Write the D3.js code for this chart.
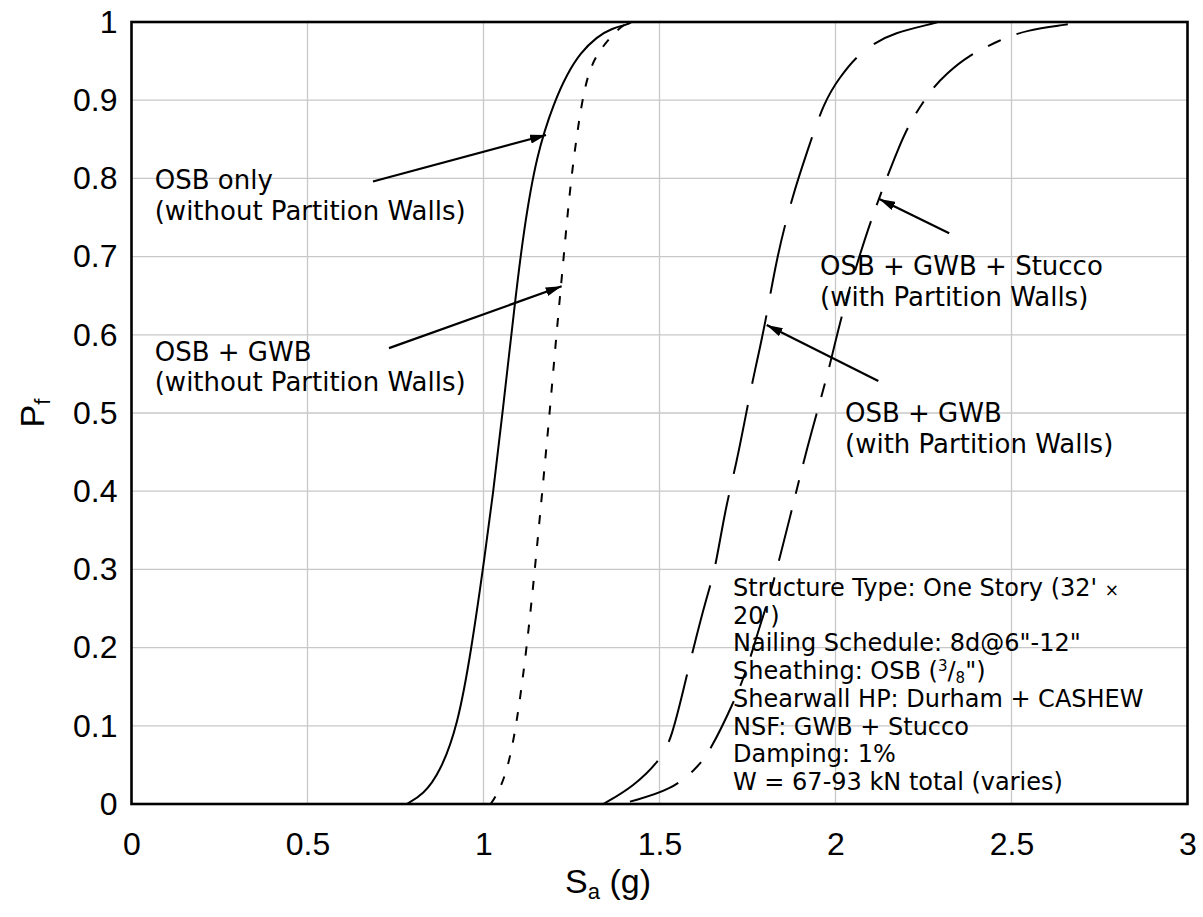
<!DOCTYPE html>
<html>
<head>
<meta charset="utf-8">
<script src="https://cdn.jsdelivr.net/npm/d3@7"></script>
<style>
  html, body { margin: 0; padding: 0; background: #fff; }
  svg { display: block; }
</style>
</head>
<body>
<svg id="chart" width="1203" height="917"></svg>
<script>
// ---------------- data ----------------
const xTicks = [0, 0.5, 1, 1.5, 2, 2.5, 3];
const xTickLabels = ["0", "0.5", "1", "1.5", "2", "2.5", "3"];
const yTicks = [0, 0.1, 0.2, 0.3, 0.4, 0.5, 0.6, 0.7, 0.8, 0.9, 1];
const yTickLabels = ["0", "0.1", "0.2", "0.3", "0.4", "0.5", "0.6", "0.7", "0.8", "0.9", "1"];

// OSB only (without Partition Walls) - solid
const osbOnlySa = [0.782, 0.829, 0.876, 0.927, 0.966, 0.998, 1.028, 1.054, 1.089, 1.113, 1.151, 1.203, 1.236, 1.274, 1.322, 1.365, 1.411, 1.42];
const osbOnlyPf = [0, 0.012, 0.04, 0.1, 0.199, 0.299, 0.399, 0.5, 0.64, 0.73, 0.832, 0.9, 0.932, 0.96, 0.981, 0.992, 0.997, 1.0];

// OSB + GWB (without Partition Walls) - short dashes
const osbGwbSa = [1.02, 1.035, 1.066, 1.094, 1.123, 1.146, 1.167, 1.188, 1.207, 1.228, 1.248, 1.279, 1.303, 1.336, 1.388, 1.416];
const osbGwbPf = [0, 0.009, 0.039, 0.1, 0.2, 0.3, 0.4, 0.5, 0.6, 0.7, 0.8, 0.9, 0.943, 0.968, 0.994, 1.0];

// OSB + GWB (with Partition Walls) - long dashes
const osbGwbPwSa = [1.34, 1.426, 1.506, 1.535, 1.568, 1.596, 1.634, 1.658, 1.686, 1.719, 1.748, 1.771, 1.800, 1.833, 1.880, 1.918, 1.967, 2.013, 2.06, 2.107, 2.164, 2.278, 2.29];
const osbGwbPwPf = [0.0, 0.022, 0.058, 0.086, 0.146, 0.199, 0.265, 0.299, 0.376, 0.436, 0.504, 0.555, 0.6125, 0.700, 0.781, 0.832, 0.898, 0.930, 0.956, 0.972, 0.986, 0.998, 1.0];

// OSB + GWB + Stucco (with Partition Walls) - dash / short dash
const stuccoSa = [1.416, 1.535, 1.606, 1.643, 1.710, 1.748, 1.781, 1.814, 1.842, 1.871, 1.899, 1.928, 1.984, 2.013, 2.070, 2.107, 2.183, 2.221, 2.278, 2.316, 2.373, 2.467, 2.543, 2.666, 2.69];
const stuccoPf = [0.003, 0.018, 0.046, 0.067, 0.129, 0.171, 0.2225, 0.267, 0.316, 0.367, 0.419, 0.470, 0.559, 0.619, 0.704, 0.755, 0.845, 0.879, 0.917, 0.934, 0.956, 0.977, 0.990, 0.997, 1.0];

// annotation labels (lines) and arrow start/tip in data units
const labelLines = [
  ["OSB only", "(without Partition Walls)"],
  ["OSB + GWB", "(without Partition Walls)"],
  ["OSB + GWB + Stucco", "(with Partition Walls)"],
  ["OSB + GWB", "(with Partition Walls)"]
];
const labelAnchorSa = [0.066, 0.066, 1.956, 2.027];
const labelAnchorPf = [0.786, 0.567, 0.676, 0.488];
const arrowFromSa = [0.686, 0.7315, 2.323, 2.1216];
const arrowFromPf = [0.796, 0.583, 0.730, 0.541];
const arrowToSa = [1.1776, 1.222, 2.1244, 1.8045];
const arrowToPf = [0.8555, 0.662, 0.7737, 0.6125];

const infoLines = [
  "Structure Type: One Story (32' ×",
  "20')",
  "Nailing Schedule: 8d@6\"-12\"",
  "Sheathing: OSB (3/8\")",
  "Shearwall HP: Durham + CASHEW",
  "NSF: GWB + Stucco",
  "Damping: 1%",
  "W = 67-93 kN total (varies)"
];

// ---------------- drawing ----------------
const svg = d3.select("#chart");
svg.append("rect").attr("width", 1203).attr("height", 917).attr("fill", "#fff");

const x = d3.scaleLinear().domain([0, 3]).range([131.5, 1187.5]);
const y = d3.scaleLinear().domain([0, 1]).range([804, 22]);

// gridlines
const grid = svg.append("g");
grid.selectAll("line.gx").data(xTicks.slice(1, -1)).join("line")
  .attr("x1", d => x(d)).attr("x2", d => x(d))
  .attr("y1", y(0)).attr("y2", y(1))
  .attr("stroke", "#c8c8c8").attr("stroke-width", 1.3);
grid.selectAll("line.gy").data(yTicks.slice(1, -1)).join("line")
  .attr("y1", d => y(d)).attr("y2", d => y(d))
  .attr("x1", x(0)).attr("x2", x(3))
  .attr("stroke", "#c8c8c8").attr("stroke-width", 1.3);

// series
const series = [
  { sa: osbOnlySa, pf: osbOnlyPf, dash: null },
  { sa: osbGwbSa, pf: osbGwbPf, dash: "9,13" },
  { sa: osbGwbPwSa, pf: osbGwbPwPf, dash: "70,22" },
  { sa: stuccoSa, pf: stuccoPf, dash: "52,17,14,17" }
];
const line = d3.line().x(d => x(d[0])).y(d => y(d[1])).curve(d3.curveBasis);
svg.append("g").selectAll("path").data(series).join("path")
  .attr("d", s => line(s.sa.map((v, i) => [v, s.pf[i]])))
  .attr("fill", "none").attr("stroke", "#000").attr("stroke-width", 2)
  .attr("stroke-dasharray", s => s.dash);

// plot border
svg.append("rect")
  .attr("x", x(0)).attr("y", y(1))
  .attr("width", x(3) - x(0)).attr("height", y(0) - y(1))
  .attr("fill", "none").attr("stroke", "#000").attr("stroke-width", 2.6);

// axes
const tickFont = "'Liberation Sans', Arial, sans-serif";
const xAxis = d3.axisBottom(x).tickValues(xTicks).tickSize(0).tickPadding(28)
  .tickFormat((d, i) => xTickLabels[i]);
const gx = svg.append("g").attr("transform", `translate(0,${y(0)})`).call(xAxis);
gx.select(".domain").remove();
gx.selectAll("text").attr("font-family", tickFont).attr("font-size", 32).attr("fill", "#000");

const yAxis = d3.axisLeft(y).tickValues(yTicks).tickSize(0).tickPadding(14)
  .tickFormat((d, i) => yTickLabels[i]);
const gy = svg.append("g").attr("transform", `translate(${x(0)},0)`).call(yAxis);
gy.select(".domain").remove();
gy.selectAll("text").attr("font-family", tickFont).attr("font-size", 32).attr("fill", "#000");

// axis titles
const xt = svg.append("text").attr("x", 608).attr("y", 893)
  .attr("text-anchor", "middle").attr("font-family", tickFont).attr("font-size", 34);
xt.append("tspan").text("S");
xt.append("tspan").attr("font-size", 22).attr("dy", 6).text("a");
xt.append("tspan").attr("dy", -6).text(" (g)");

const yt = svg.append("text")
  .attr("transform", `translate(44,${(y(0) + y(1)) / 2}) rotate(-90)`)
  .attr("text-anchor", "middle").attr("font-family", tickFont).attr("font-size", 34);
yt.append("tspan").text("P");
yt.append("tspan").attr("font-size", 22).attr("dy", 6).text("f");

// arrow marker
svg.append("defs").append("marker")
  .attr("id", "arrowhead").attr("viewBox", "0 0 16 9")
  .attr("refX", 16).attr("refY", 4.5)
  .attr("markerWidth", 16).attr("markerHeight", 9)
  .attr("markerUnits", "userSpaceOnUse").attr("orient", "auto")
  .append("path").attr("d", "M0,0 L16,4.5 L0,9 Z").attr("fill", "#000");

const annFont = "'DejaVu Sans', Verdana, sans-serif";
svg.append("g").selectAll("line").data(arrowFromSa).join("line")
  .attr("x1", (d, i) => x(arrowFromSa[i])).attr("y1", (d, i) => y(arrowFromPf[i]))
  .attr("x2", (d, i) => x(arrowToSa[i])).attr("y2", (d, i) => y(arrowToPf[i]))
  .attr("stroke", "#000").attr("stroke-width", 2.2)
  .attr("marker-end", "url(#arrowhead)");

// labels
const lab = svg.append("g").attr("font-family", annFont).attr("font-size", 26).attr("fill", "#000");
labelLines.forEach((lines, i) => {
  const t = lab.append("text").attr("x", x(labelAnchorSa[i])).attr("y", y(labelAnchorPf[i]));
  lines.forEach((s, j) => {
    t.append("tspan").attr("x", x(labelAnchorSa[i])).attr("dy", j === 0 ? 0 : 30.5).text(s);
  });
});

// info block
const info = svg.append("text").attr("font-family", annFont).attr("font-size", 24).attr("fill", "#000");
const infoX = 733, infoY0 = 596, infoDy = 27.7;
infoLines.forEach((s, j) => {
  const ts = info.append("tspan").attr("x", infoX).attr("y", infoY0 + j * infoDy);
  if (j === 0) {
    ts.text(s.slice(0, -1));
    info.append("tspan").attr("font-size", 17).text(s.slice(-1));
  } else if (j === 3) {
    ts.text("Sheathing: OSB (");
    info.append("tspan").attr("font-size", 15).attr("dy", -8).text("3");
    info.append("tspan").attr("dy", 8).text("/");
    info.append("tspan").attr("font-size", 15).attr("dy", 4).text("8");
    info.append("tspan").attr("dy", -4).text("\")");
  } else {
    ts.text(s);
  }
});
</script>
</body>
</html>
